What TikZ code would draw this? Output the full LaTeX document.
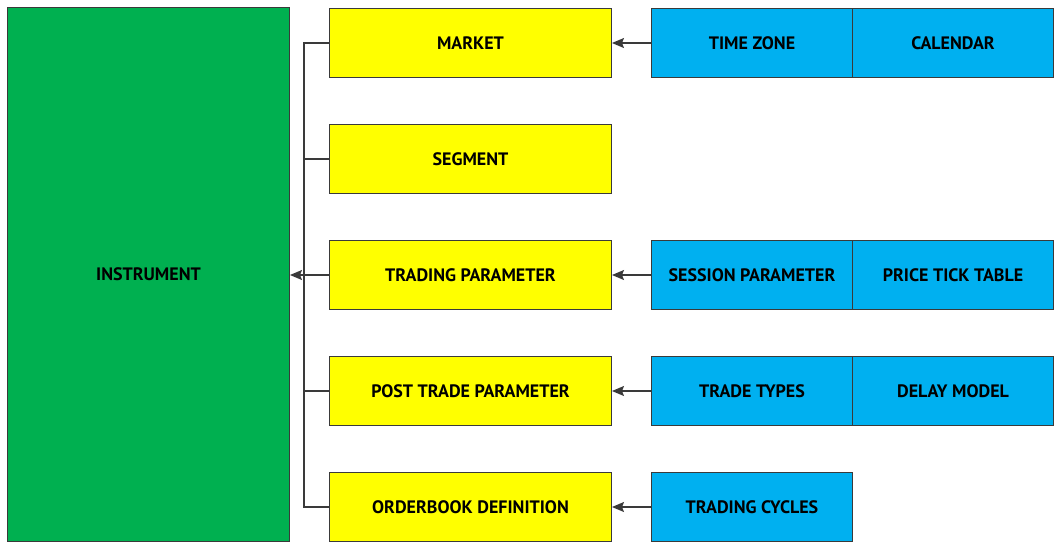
\documentclass[tikz,border=0pt]{standalone}
\usepackage{fontspec}
\setmainfont{PT Sans}
\usetikzlibrary{arrows.meta}
\definecolor{gfill}{HTML}{00B050}
\definecolor{yfill}{HTML}{FFFF00}
\definecolor{bfill}{HTML}{00B0F0}
\definecolor{edge}{HTML}{3A3A3A}
\begin{document}
\begin{tikzpicture}[x=1pt,y=-1pt,
  box/.style={draw=edge,line width=1pt,anchor=north west,inner sep=0pt,font=\bfseries\fontsize{18}{18}\selectfont},
  gbox/.style={box,fill=gfill},
  ybox/.style={box,fill=yfill,minimum width=282pt,minimum height=69pt},
  bbox/.style={box,fill=bfill,minimum width=201pt,minimum height=69pt},
  conn/.style={draw=edge,line width=1.2pt},
  arr/.style={conn,-{Stealth[length=12pt,width=10pt,inset=2pt]}}]
\useasboundingbox (0,0) rectangle (1061,542);
\node[gbox,minimum width=282pt,minimum height=534pt] (inst) at (7,7) {INSTRUMENT};
\node[ybox] (market) at (329,8) {MARKET};
\node[ybox] (segment) at (329,124) {SEGMENT};
\node[ybox] (trading) at (329,240) {TRADING PARAMETER};
\node[ybox] (post) at (329,356) {POST TRADE PARAMETER};
\node[ybox] (order) at (329,472) {ORDERBOOK DEFINITION};
\node[bbox] (tz) at (651,8) {TIME ZONE};
\node[bbox] (cal) at (852,8) {CALENDAR};
\node[bbox] (sess) at (651,240) {SESSION PARAMETER};
\node[bbox] (tick) at (852,240) {PRICE TICK TABLE};
\node[bbox] (ttypes) at (651,356) {TRADE TYPES};
\node[bbox] (delay) at (852,356) {DELAY MODEL};
\node[bbox] (cycles) at (651,472) {TRADING CYCLES};
\coordinate (bus) at (304,0);
\draw[conn] (market.west) -| (bus |- order.west) -- (order.west);
\draw[conn] (segment.west) -- (bus |- segment.west);
\draw[conn] (post.west) -- (bus |- post.west);
\draw[arr] (trading.west) -- (inst.east |- trading.west);
\draw[arr] (tz.west) -- (market.east);
\draw[arr] (sess.west) -- (trading.east);
\draw[arr] (ttypes.west) -- (post.east);
\draw[arr] (cycles.west) -- (order.east);
\end{tikzpicture}
\end{document}
